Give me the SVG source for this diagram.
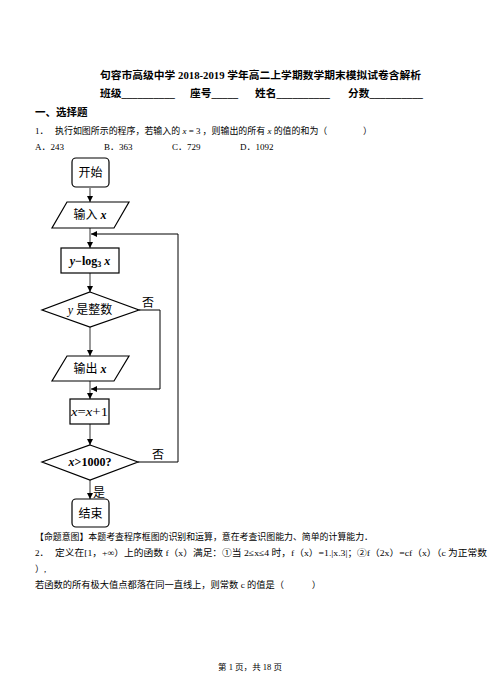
<svg xmlns="http://www.w3.org/2000/svg" width="502" height="694" viewBox="0 0 502 694">
<defs>
<marker id="ah" viewBox="0 0 10 10" refX="10" refY="5" markerWidth="6" markerHeight="6" orient="auto" markerUnits="userSpaceOnUse">
<path d="M0,0 L10,5 L0,10 z" fill="#000"/>
</marker>
</defs>
<style>
.cn{font-family:"Liberation Serif","Noto Sans CJK SC",serif;fill:#000}
.b{font-weight:bold}
.body{font-size:9px}
.node{fill:#fff;stroke:#000;stroke-width:1.2}
.fc{font-family:"Liberation Serif","Noto Sans CJK SC",serif;font-size:12px;fill:#000}
.it{font-style:italic}
.ln{fill:none;stroke:#333;stroke-width:1}
</style>
<rect width="502" height="694" fill="#fff"/>

<g id="header">
<text class="cn b" x="100" y="79" font-size="10.7" textLength="321" lengthAdjust="spacingAndGlyphs">句容市高级中学 2018-2019 学年高二上学期数学期末模拟试卷含解析</text>
<text class="cn b" x="100" y="97" font-size="10.7">班级__________</text>
<text class="cn b" x="190" y="97" font-size="10.7">座号_____</text>
<text class="cn b" x="255" y="97" font-size="10.7">姓名__________</text>
<text class="cn b" x="348" y="97" font-size="10.7">分数__________</text>
<text class="cn b" x="35" y="116" font-size="10.5">一、选择题</text>
<text class="cn body" x="35" y="134">1．</text>
<text class="cn body" x="55" y="134" textLength="317" lengthAdjust="spacingAndGlyphs">执行如图所示的程序，若输入的 <tspan class="it">x</tspan> = 3 ，则输出的所有 <tspan class="it">x</tspan> 的值的和为（　　　　）</text>
<text class="cn body" x="35" y="150">A．243</text>
<text class="cn body" x="104" y="150">B．363</text>
<text class="cn body" x="172" y="150">C．729</text>
<text class="cn body" x="240" y="150">D．1092</text>
</g>

<g id="connectors">
<line class="ln" x1="90" y1="188" x2="90" y2="202" marker-end="url(#ah)"/>
<line class="ln" x1="90" y1="228" x2="90" y2="248" marker-end="url(#ah)"/>
<line class="ln" x1="90" y1="273" x2="90" y2="292" marker-end="url(#ah)"/>
<line class="ln" x1="90" y1="327" x2="90" y2="356" marker-end="url(#ah)"/>
<line class="ln" x1="90" y1="381" x2="90" y2="399" marker-end="url(#ah)"/>
<line class="ln" x1="90" y1="424" x2="90" y2="445" marker-end="url(#ah)"/>
<line class="ln" x1="90" y1="480" x2="90" y2="499" marker-end="url(#ah)"/>
<path d="M139,310 H160 V389 H91" fill="none" stroke="#000" stroke-width="1" marker-end="url(#ah)"/>
<path d="M138,462 H178 V234 H91" fill="none" stroke="#000" stroke-width="1" marker-end="url(#ah)"/>
<text class="fc" x="142" y="307" font-size="12">否</text>
<text class="fc" x="152" y="459" font-size="12">否</text>
<text class="fc" x="93" y="497" font-size="12">是</text>
</g>

<g id="start">
<rect class="node" x="72" y="158" width="37" height="29" rx="4"/>
<text class="fc" x="90.5" y="177" text-anchor="middle" font-size="12">开始</text>
</g>
<g id="input">
<polygon class="node" points="67,202 129,202 114,228 52,228"/>
<text class="fc" x="90" y="219" text-anchor="middle">输入 <tspan class="it b">x</tspan></text>
</g>
<g id="calc">
<rect class="node" x="61" y="248" width="58" height="25"/>
<text class="fc b" x="90" y="265" text-anchor="middle" font-size="11.5"><tspan class="it">y</tspan>−log<tspan font-size="8" dy="2">3</tspan><tspan dy="-2"> </tspan><tspan class="it">x</tspan></text>
</g>
<g id="check1">
<polygon class="node" points="90,292 139,310 90,327 42,310"/>
<text class="fc" x="90" y="314" text-anchor="middle" font-size="10.5"><tspan class="it">y</tspan> 是整数</text>
</g>
<g id="output">
<polygon class="node" points="67,356 129,356 114,381 52,381"/>
<text class="fc" x="90" y="373" text-anchor="middle">输出 <tspan class="it b">x</tspan></text>
</g>
<g id="incr">
<rect class="node" x="70" y="399" width="39" height="25"/>
<text class="fc" x="89.5" y="416" text-anchor="middle" font-size="11" textLength="37" lengthAdjust="spacingAndGlyphs"><tspan class="it">x</tspan>=<tspan class="it">x</tspan>+1</text>
</g>
<g id="check2">
<polygon class="node" points="90,445 138,462 90,480 42,462"/>
<text class="fc b" x="90" y="466" text-anchor="middle" font-size="10"><tspan class="it">x</tspan>&gt;1000?</text>
</g>
<g id="end">
<rect class="node" x="72" y="499" width="37" height="28" rx="4"/>
<text class="fc" x="90.5" y="518" text-anchor="middle" font-size="12">结束</text>
</g>

<g id="footer-text">
<text class="cn body" x="35" y="540" textLength="338" lengthAdjust="spacingAndGlyphs">【命题意图】本题考查程序框图的识别和运算，意在考查识图能力、简单的计算能力．</text>
<text class="cn body" x="35" y="556">2．</text>
<text class="cn body" x="55" y="556" textLength="432" lengthAdjust="spacingAndGlyphs">定义在[1，+∞）上的函数 f（x）满足：①当 2≤x≤4 时，f（x）=1.|x.3|；②f（2x）=cf（x）（c 为正常数</text>
<text class="cn body" x="35" y="572">）,</text>
<text class="cn body" x="35" y="588" textLength="286" lengthAdjust="spacingAndGlyphs">若函数的所有极大值点都落在同一直线上，则常数 c 的值是（　　　）</text>
<text class="cn" x="250" y="670" font-size="8" text-anchor="middle" textLength="64" lengthAdjust="spacingAndGlyphs">第 1 页，共 18 页</text>
</g>
</svg>
